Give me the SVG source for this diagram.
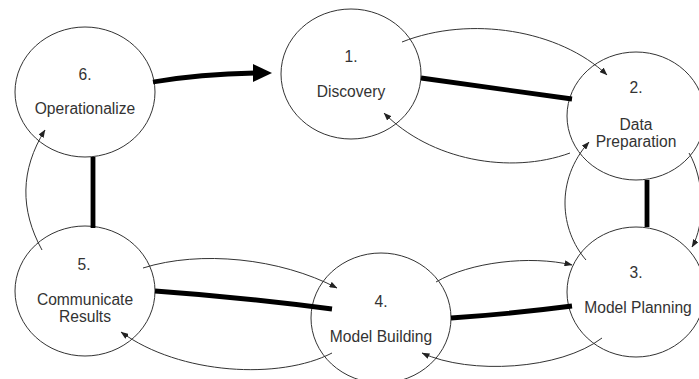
<svg xmlns="http://www.w3.org/2000/svg" width="699" height="379" viewBox="0 0 699 379">
  <defs>
    <marker id="head" viewBox="0 0 8 6" refX="7.5" refY="3" markerWidth="8" markerHeight="6" markerUnits="userSpaceOnUse" orient="auto">
      <path d="M0,0 L8,3 L0,6 Z" fill="#222"/>
    </marker>
    <style>
      .stage ellipse { fill: #fff; stroke: #333; stroke-width: 1; }
      .stage text { font-family: "Liberation Sans", Arial, sans-serif; font-size: 15.6px; fill: #333; text-anchor: middle; }
      .thin { fill: none; stroke: #333; stroke-width: 1; marker-end: url(#head); }
      .thick { fill: none; stroke: #000; stroke-width: 4.8; }
    </style>
  </defs>

  <rect width="699" height="379" fill="#fff"/>

  <!-- lifecycle stages -->
  <g id="stage-1" class="stage">
    <ellipse cx="351" cy="74" rx="70" ry="65"/>
    <text x="351" y="62">1.</text>
    <text x="351" y="97">Discovery</text>
  </g>
  <g id="stage-2" class="stage">
    <ellipse cx="636" cy="116" rx="69" ry="64"/>
    <text x="636" y="93">2.</text>
    <text x="636" y="130">Data</text>
    <text x="636" y="147">Preparation</text>
  </g>
  <g id="stage-3" class="stage">
    <ellipse cx="636" cy="292" rx="69" ry="65"/>
    <text x="636" y="278">3.</text>
    <text x="638" y="313">Model Planning</text>
  </g>
  <g id="stage-4" class="stage">
    <ellipse cx="381" cy="318" rx="70" ry="65"/>
    <text x="381" y="307">4.</text>
    <text x="381" y="342">Model Building</text>
  </g>
  <g id="stage-5" class="stage">
    <ellipse cx="85" cy="291" rx="70" ry="65"/>
    <text x="84" y="270">5.</text>
    <text x="85" y="305">Communicate</text>
    <text x="85" y="322">Results</text>
  </g>
  <g id="stage-6" class="stage">
    <ellipse cx="85" cy="92" rx="70" ry="65"/>
    <text x="85" y="80">6.</text>
    <text x="85" y="114">Operationalize</text>
  </g>

  <!-- connectors -->
  <g id="connectors">
    <!-- main cycle (thick) -->
    <path class="thick" d="M153,82 Q200,74 255,73"/>
    <path d="M253,64 L272,73 L253,82 Z" fill="#000"/>
    <path class="thick" d="M421,78 L572,99"/>
    <path class="thick" d="M647,180 L647,227"/>
    <path class="thick" d="M451,318 Q510,314 572,306"/>
    <path class="thick" d="M155,291 Q240,297 332,309"/>
    <path class="thick" d="M93,157 L93,228"/>

    <!-- iterations between stages (thin) -->
    <path class="thin" d="M402,42 C470,15 560,30 607,75"/>
    <path class="thin" d="M570,153 C510,175 430,160 384,113"/>
    <path class="thin" d="M586,260 C560,230 555,180 589,142"/>
    <path class="thin" d="M689,153 C705,180 705,225 692,247"/>
    <path class="thin" d="M436,282 C470,262 530,255 572,265"/>
    <path class="thin" d="M602,338 C560,370 470,375 422,353"/>
    <path class="thin" d="M143,268 C200,250 280,258 337,288"/>
    <path class="thin" d="M332,353 C280,380 180,375 121,332"/>
    <path class="thin" d="M42,250 C20,210 20,170 45,130"/>
  </g>
</svg>
